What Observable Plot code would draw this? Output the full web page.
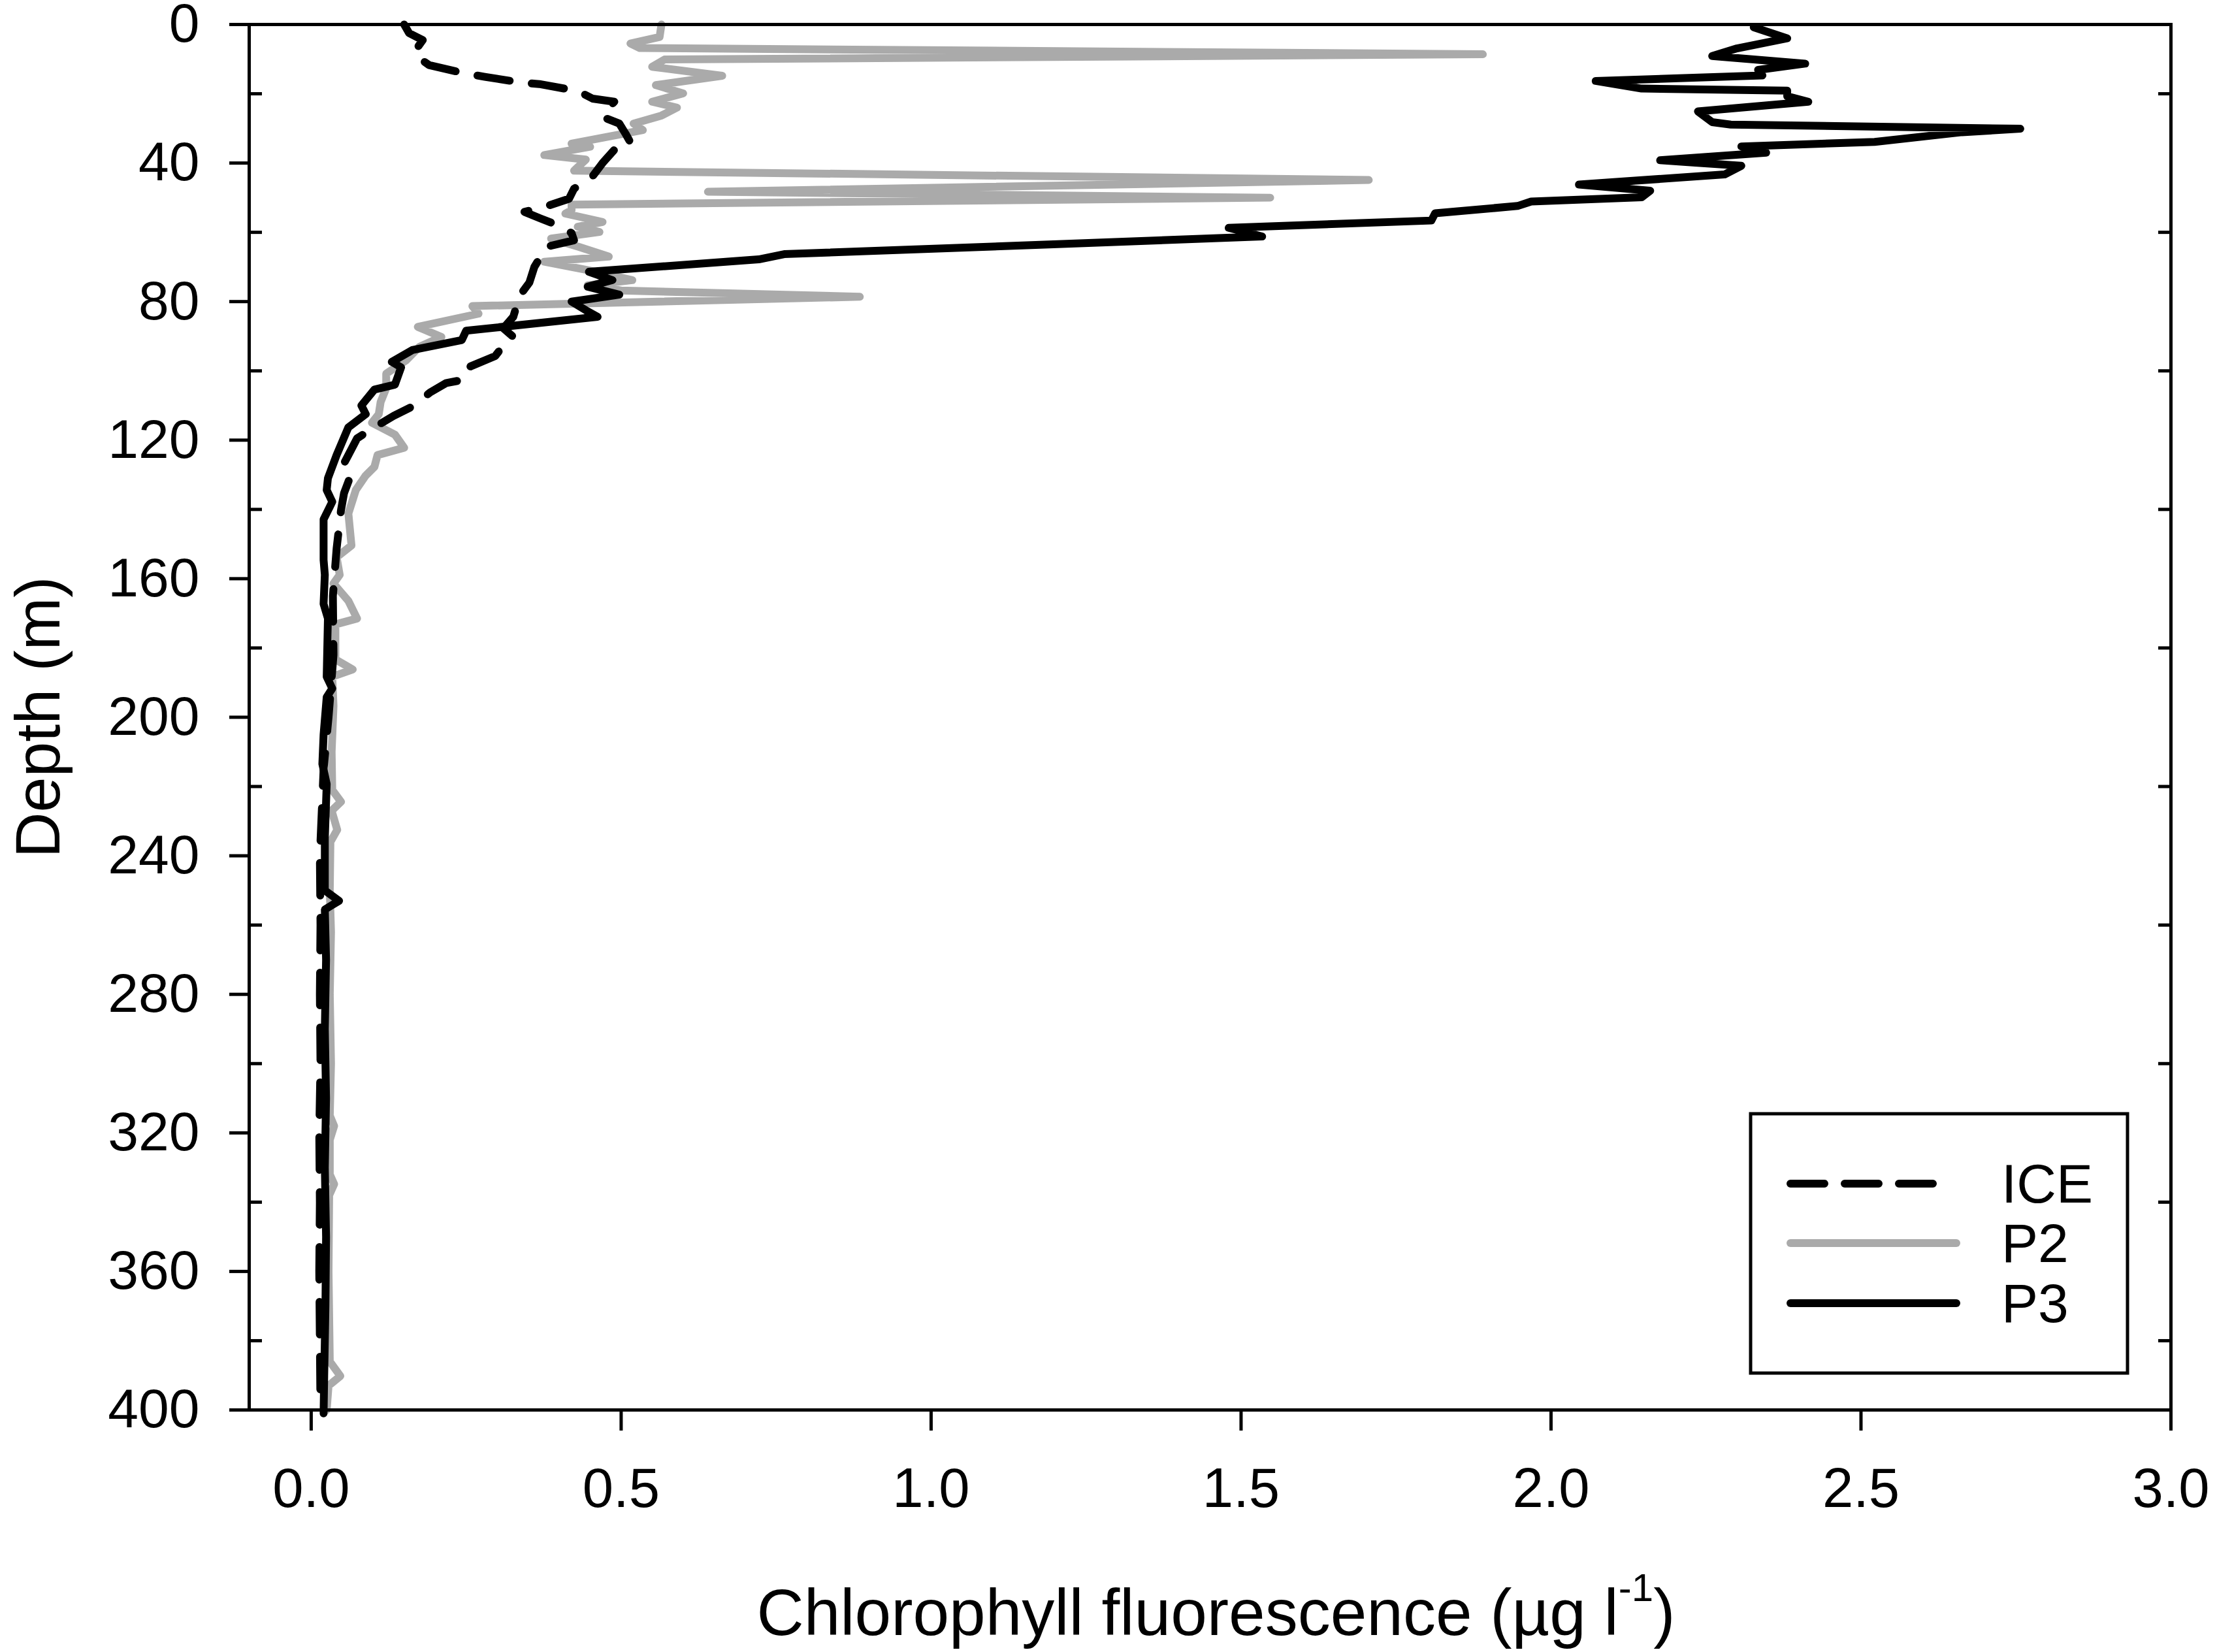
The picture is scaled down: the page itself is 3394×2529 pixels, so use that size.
<!DOCTYPE html>
<html>
<head>
<meta charset="utf-8">
<script src="https://cdn.jsdelivr.net/npm/d3@7"></script>
<script src="https://cdn.jsdelivr.net/npm/@observablehq/plot@0.6"></script>
<style>
html, body { margin: 0; padding: 0; background: #ffffff; overflow: hidden; }
</style>
</head>
<body>
<div id="chart"></div>
<script>
// ---------- data ----------
const seriesNames = ["ICE", "P2", "P3"];

const iceDepth = [0, 2.5, 4.5, 6.5, 8.4, 10.2, 11.7, 14.2, 15.1, 16.8, 17.2, 19.2, 21.4, 22.3, 24, 26.7, 28.6, 31.5, 34.4, 35.8, 40, 44.5, 47.4, 50.3, 52.2, 54.1, 56, 57.9, 60.2, 62.3, 64.2, 66.1, 70, 74.5, 78.6, 82, 84.4, 87.7, 90.2, 92.4, 95.7, 98.7, 102.5, 103.5, 106.2, 110.2, 113, 116.5, 119.5, 124.3, 127.7, 131, 135.3, 140.3, 151.3, 165, 182, 200, 215, 240, 260, 280, 300, 320, 340, 360, 380, 400];
const iceValue = [0.15, 0.158, 0.18, 0.172, 0.166, 0.178, 0.19, 0.25, 0.28, 0.34, 0.368, 0.43, 0.454, 0.489, 0.48, 0.47, 0.497, 0.507, 0.516, 0.491, 0.47, 0.451, 0.424, 0.416, 0.384, 0.344, 0.37, 0.397, 0.42, 0.424, 0.379, 0.373, 0.36, 0.352, 0.335, 0.33, 0.326, 0.31, 0.326, 0.311, 0.297, 0.257, 0.248, 0.218, 0.192, 0.164, 0.133, 0.1, 0.074, 0.06, 0.05, 0.062, 0.053, 0.048, 0.041, 0.035, 0.036, 0.028, 0.02, 0.014, 0.015, 0.014, 0.015, 0.013, 0.014, 0.013, 0.014, 0.015];

const p2Depth = [0, 3.6, 5.5, 6.8, 8.6, 10.1, 12.2, 14.8, 17.5, 19.9, 22.3, 24, 26.3, 28.6, 30.5, 34.4, 35.3, 37.7, 39, 42.2, 44.9, 48.3, 50.0, 52.0, 53.6, 54.6, 57, 58.4, 59.9, 61.8, 64.2, 67, 68.5, 71, 73.8, 75.3, 76.8, 78.6, 81.3, 83.5, 87.3, 90.2, 93, 97, 100.8, 105, 109, 112.5, 115, 118.4, 122.2, 124.3, 127.7, 130.2, 134.4, 141.2, 150.4, 153.8, 158.9, 161.4, 166.4, 171.5, 173.2, 183.3, 186.2, 188.3, 196.7, 210, 221, 224.4, 227, 232.5, 236, 250, 262, 280, 300, 315, 318, 322, 332, 334.8, 338, 360, 386, 390.2, 393, 400];
const p2Value = [0.565, 0.562, 0.515, 0.53, 1.89, 0.57, 0.55, 0.663, 0.556, 0.60, 0.55, 0.59, 0.565, 0.52, 0.535, 0.42, 0.45, 0.376, 0.443, 0.424, 1.706, 0.64, 1.547, 0.42, 0.42, 0.41, 0.47, 0.43, 0.465, 0.387, 0.432, 0.48, 0.376, 0.448, 0.518, 0.446, 0.5, 0.885, 0.26, 0.27, 0.172, 0.21, 0.175, 0.153, 0.121, 0.121, 0.112, 0.109, 0.098, 0.135, 0.15, 0.107, 0.102, 0.088, 0.072, 0.06, 0.065, 0.041, 0.046, 0.036, 0.06, 0.074, 0.039, 0.039, 0.067, 0.034, 0.036, 0.033, 0.034, 0.048, 0.033, 0.042, 0.031, 0.03, 0.032, 0.03, 0.032, 0.03, 0.037, 0.03, 0.03, 0.037, 0.029, 0.028, 0.03, 0.047, 0.028, 0.025];

const p3Depth = [0.8, 4.0, 6.9, 9.1, 11.3, 13.1, 14.7, 16.3, 18.5, 19.1, 20.7, 22.3, 25.1, 28.2, 28.9, 30.1, 31.1, 33.9, 35.2, 37.0, 39.2, 40.8, 43.3, 46.2, 48.0, 49.9, 51.1, 52.4, 54.5, 56.6, 58.7, 61.2, 63.5, 66.3, 67.8, 71.4, 73.8, 75.7, 78, 80, 82.5, 84.4, 88.4, 91.1, 94, 97.4, 99, 104, 105.4, 110, 112.5, 116.3, 124.3, 131, 134.4, 137.8, 142.9, 154.6, 158.9, 167.3, 171.5, 188.3, 191.7, 194.2, 205, 213.5, 219.3, 235, 250, 253, 255.5, 270, 290, 310, 330, 350, 370, 390, 401];
const p3Value = [2.327, 2.381, 2.30, 2.26, 2.41, 2.334, 2.341, 2.072, 2.146, 2.381, 2.381, 2.415, 2.237, 2.26, 2.29, 2.757, 2.663, 2.522, 2.307, 2.347, 2.176, 2.307, 2.28, 2.045, 2.16, 2.146, 1.968, 1.946, 1.813, 1.807, 1.48, 1.534, 1.19, 0.763, 0.722, 0.448, 0.486, 0.446, 0.497, 0.42, 0.443, 0.462, 0.25, 0.243, 0.163, 0.13, 0.145, 0.135, 0.102, 0.081, 0.088, 0.06, 0.041, 0.027, 0.025, 0.034, 0.02, 0.02, 0.022, 0.02, 0.027, 0.025, 0.034, 0.025, 0.02, 0.018, 0.025, 0.022, 0.022, 0.045, 0.022, 0.024, 0.022, 0.024, 0.022, 0.024, 0.023, 0.021, 0.02];

const xTicks = [0, 0.5, 1.0, 1.5, 2.0, 2.5, 3.0];
const yMajorTicks = [0, 40, 80, 120, 160, 200, 240, 280, 320, 360, 400];
const yMinorTicks = [20, 60, 100, 140, 180, 220, 260, 300, 340, 380];
const xTitle = "Chlorophyll fluorescence (µg l-1)";
const yTitle = "Depth (m)";

// ---------- styles ----------
const seriesColor = ["#000000", "#aaaaaa", "#000000"];
const seriesDash = ["50,34", null, null];
const lineW = 12;

function rows(name, depths, values) {
  return depths.map((d, i) => ({series: name, depth: d, value: values[i]}));
}
const iceRows = rows(seriesNames[0], iceDepth, iceValue);
const p2Rows = rows(seriesNames[1], p2Depth, p2Value);
const p3Rows = rows(seriesNames[2], p3Depth, p3Value);

const W = 3394, H = 2529, ML = 381, MR = 71, MT = 37, MB = 371;

function lineMark(data, i) {
  const o = {x: "value", y: "depth", stroke: seriesColor[i], strokeWidth: lineW,
             strokeLinejoin: "round", strokeLinecap: "round"};
  if (seriesDash[i]) o.strokeDasharray = seriesDash[i];
  return Plot.line(data, o);
}

const chart = Plot.plot({
  width: W, height: H,
  marginLeft: ML, marginRight: MR, marginTop: MT, marginBottom: MB,
  style: {fontFamily: "'Liberation Sans', Arial, Helvetica, sans-serif", background: "white", color: "black", overflow: "visible"},
  x: {domain: [-0.1, 3.0], label: null},
  y: {domain: [0, 400], reverse: true, label: null},
  marks: [
    lineMark(p2Rows, 1),
    lineMark(iceRows, 0),
    lineMark(p3Rows, 2),
    Plot.frame({stroke: "black", strokeWidth: 5}),
    Plot.axisX(xTicks, {anchor: "bottom", tickSize: 32, tickPadding: 56, fontSize: 85, strokeWidth: 5, tickFormat: d => d.toFixed(1), label: null}),
    Plot.axisY(yMajorTicks, {anchor: "left", tickSize: 30, tickPadding: 46, fontSize: 84, strokeWidth: 5, label: null}),
    Plot.axisY(yMinorTicks, {anchor: "left", tickSize: 20, dx: 20, tickFormat: () => "", strokeWidth: 5, label: null}),
    Plot.axisY(yMinorTicks, {anchor: "right", tickSize: 20, dx: -20, tickFormat: () => "", strokeWidth: 5, label: null}),
    Plot.text([xTitle], {text: d => d, frameAnchor: "bottom", textAnchor: "middle", lineAnchor: "bottom", dy: 344, dx: 9, fontSize: 100, fill: "black"}),
    Plot.text([yTitle], {text: d => d, frameAnchor: "left", textAnchor: "middle", lineAnchor: "middle", rotate: -90, dx: -322, fontSize: 97, fill: "black"})
  ]
});

document.getElementById("chart").appendChild(chart);
const svg = d3.select(chart);

// superscript in x title
svg.selectAll("text").filter(function () { return this.textContent === xTitle; }).each(function () {
  const t = d3.select(this);
  t.text(null);
  t.append("tspan").text("Chlorophyll fluorescence (µg l");
  t.append("tspan").attr("font-size", 60).attr("dy", -52).text("-1");
  t.append("tspan").attr("dy", 52).text(")");
});

// legend inside the plot frame (bottom right)
const frameRight = W - MR, frameBottom = H - MB;
const box = {x: frameRight - 643, y: frameBottom - 453, w: 577, h: 397};
const rowY = [box.y + 107, box.y + 198, box.y + 290];
const lg = svg.append("g").attr("class", "legend");
lg.append("rect").attr("x", box.x).attr("y", box.y).attr("width", box.w).attr("height", box.h)
  .attr("fill", "white").attr("stroke", "black").attr("stroke-width", 5);
seriesNames.forEach((name, i) => {
  const ln = lg.append("line")
    .attr("x1", box.x + 61).attr("x2", box.x + (seriesDash[i] ? 284 : 315))
    .attr("y1", rowY[i]).attr("y2", rowY[i])
    .attr("stroke", seriesColor[i]).attr("stroke-width", 12).attr("stroke-linecap", "round");
  if (seriesDash[i]) ln.attr("stroke-dasharray", "52,31");
  lg.append("text").attr("x", box.x + 384).attr("y", rowY[i] + 29)
    .attr("text-anchor", "start")
    .attr("font-size", 84).attr("fill", "black").text(name);
});
</script>
</body>
</html>
